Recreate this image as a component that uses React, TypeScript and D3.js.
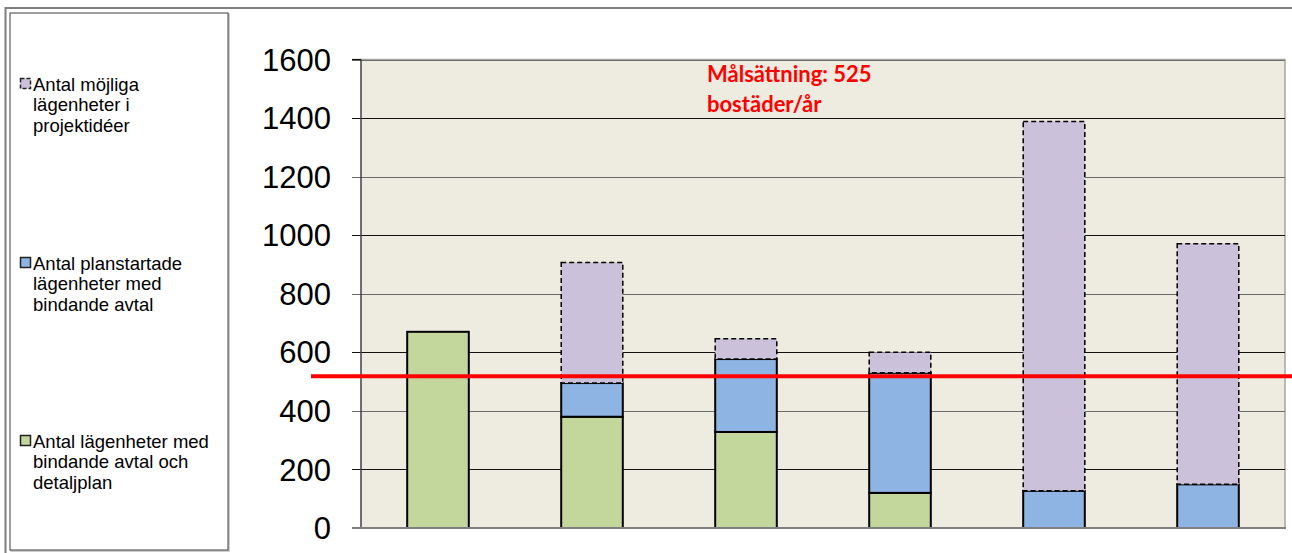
import React, { useEffect, useRef } from 'react';
import * as d3 from 'd3';

// values
const categories = ['A', 'B', 'C', 'D', 'E', 'F'];
const detaljplan = [670, 380, 328, 120, 0, 0];
const planstartade = [0, 115, 249, 410, 127, 149];
const projektideer = [0, 412, 69, 70, 1261, 822];
const yTicks = [0, 200, 400, 600, 800, 1000, 1200, 1400, 1600];
const goalValue = 518;
const goalText = ['Målsättning: 525', 'bostäder/år'];

const seriesKeys = ['detaljplan', 'planstartade', 'projektideer'];
const seriesColors: Record<string, string> = {
    detaljplan: '#c3d69b',
    planstartade: '#8eb4e3',
    projektideer: '#ccc1da',
};
const legendItems = [
    { key: 'projektideer', lines: ['Antal möjliga', 'lägenheter  i', 'projektidéer'], y: 84 },
    { key: 'planstartade', lines: ['Antal planstartade', 'lägenheter med', 'bindande avtal'], y: 263 },
    { key: 'detaljplan', lines: ['Antal lägenheter med', 'bindande avtal och', 'detaljplan'], y: 441 },
];

export default function App() {
    const ref = useRef<SVGSVGElement>(null);

    useEffect(() => {
        const svg = d3.select(ref.current);
        svg.selectAll('*').remove();

        const W = 1292, H = 553;
        const plot = { left: 361, right: 1285, top: 59.5, bottom: 528 };

        // outer frame
        svg.append('path')
            .attr('d', `M5.5,${H} L5.5,8 L${W},8`)
            .attr('fill', 'none').attr('stroke', '#7f7f7f').attr('stroke-width', 2);

        // legend box
        svg.append('rect')
            .attr('x', 11).attr('y', 14).attr('width', 218).attr('height', 537)
            .attr('fill', 'none').attr('stroke', '#bfbfbf').attr('stroke-width', 1.5);
        svg.append('rect')
            .attr('x', 10).attr('y', 13).attr('width', 218).attr('height', 537)
            .attr('fill', '#fff').attr('stroke', '#404040').attr('stroke-width', 1);

        const data = categories.map((c, i) => ({
            cat: c,
            detaljplan: detaljplan[i],
            planstartade: planstartade[i],
            projektideer: projektideer[i],
        }));

        const x = d3.scaleBand()
            .domain(categories)
            .range([plot.left, plot.right])
            .paddingInner(0.6)
            .paddingOuter(0.3);

        const y = d3.scaleLinear()
            .domain([0, 1600])
            .range([plot.bottom, plot.top]);

        // plot background
        svg.append('rect')
            .attr('x', plot.left).attr('y', plot.top)
            .attr('width', plot.right - plot.left).attr('height', plot.bottom - plot.top)
            .attr('fill', '#eeebe0');
        svg.append('path')
            .attr('d', `M${plot.left},${plot.top} L${plot.right},${plot.top} L${plot.right},${plot.bottom}`)
            .attr('fill', 'none').attr('stroke', '#a6a6a6').attr('stroke-width', 1.5);

        // gridlines + ticks
        svg.append('g')
            .selectAll('line')
            .data(yTicks.filter((t) => t > 0))
            .join('line')
            .attr('x1', plot.left - 9).attr('x2', plot.right)
            .attr('y1', (d) => Math.round(y(d)) + 0.5).attr('y2', (d) => Math.round(y(d)) + 0.5)
            .attr('stroke', (d, i) => (i % 2 ? '#6b6b6b' : '#111'))
            .attr('stroke-width', 1.2);

        // y labels
        svg.append('g')
            .selectAll('text')
            .data(yTicks)
            .join('text')
            .attr('x', 331)
            .attr('y', (d) => y(d))
            .attr('dy', '0.36em')
            .attr('text-anchor', 'end')
            .style('font-family', '"Liberation Sans", Arial, sans-serif')
            .style('font-size', '31px')
            .attr('fill', '#000')
            .text((d) => d);

        // stacked bars
        const stack = d3.stack<any>().keys(seriesKeys);
        const layers = stack(data);

        layers.forEach((layer) => {
            const key = layer.key;
            svg.append('g')
                .selectAll('rect')
                .data(layer.filter((d) => d[1] - d[0] > 0))
                .join('rect')
                .attr('x', (d) => x(d.data.cat) as number)
                .attr('width', x.bandwidth())
                .attr('y', (d) => y(d[1]))
                .attr('height', (d) => y(d[0]) - y(d[1]))
                .attr('fill', seriesColors[key])
                .attr('stroke', '#000')
                .attr('stroke-width', key === 'projektideer' ? 1.5 : 2)
                .attr('stroke-dasharray', key === 'projektideer' ? '5,3' : null);
        });

        // left axis line + bottom axis
        svg.append('line')
            .attr('x1', plot.left).attr('x2', plot.left)
            .attr('y1', plot.top).attr('y2', plot.bottom)
            .attr('stroke', '#404040').attr('stroke-width', 1.5);
        svg.append('line')
            .attr('x1', plot.left - 9).attr('x2', plot.right + 1)
            .attr('y1', plot.bottom).attr('y2', plot.bottom)
            .attr('stroke', '#7f7f7f').attr('stroke-width', 2);
        svg.append('line')
            .attr('x1', plot.left - 9).attr('x2', plot.left)
            .attr('y1', plot.top).attr('y2', plot.top)
            .attr('stroke', '#111').attr('stroke-width', 1.2);

        // goal line
        svg.append('line')
            .attr('x1', 311).attr('x2', W)
            .attr('y1', y(goalValue)).attr('y2', y(goalValue))
            .attr('stroke', '#ff0000').attr('stroke-width', 4);

        svg.append('g')
            .selectAll('text')
            .data(goalText)
            .join('text')
            .attr('x', 707)
            .attr('y', (d, i) => 82 + i * 30)
            .style('font-family', 'Lato, "Open Sans", sans-serif')
            .style('font-weight', 'bold')
            .style('font-size', '22px')
            .attr('fill', '#ff0000')
            .text((d) => d);

        // legend
        legendItems.forEach((item) => {
            const g = svg.append('g');
            g.append('rect')
                .attr('x', 20.5).attr('y', item.y - 5.5)
                .attr('width', 10).attr('height', 10)
                .attr('fill', seriesColors[item.key])
                .attr('stroke', '#222')
                .attr('stroke-width', 1.5)
                .attr('stroke-dasharray', item.key === 'projektideer' ? '4,2' : null);
            g.selectAll('text')
                .data(item.lines)
                .join('text')
                .attr('x', 33)
                .attr('y', (d, i) => item.y + i * 20.5)
                .attr('dy', '0.36em')
                .style('font-family', '"Liberation Sans", Arial, sans-serif')
                .style('font-size', '18.5px')
                .attr('fill', '#000')
                .text((d) => d);
        });
    }, []);

    return (
        <div style={{ position: 'fixed', left: 0, top: 0 }}>
            <svg ref={ref} width={1292} height={553} style={{ display: 'block', background: '#fff' }} />
        </div>
    );
}
